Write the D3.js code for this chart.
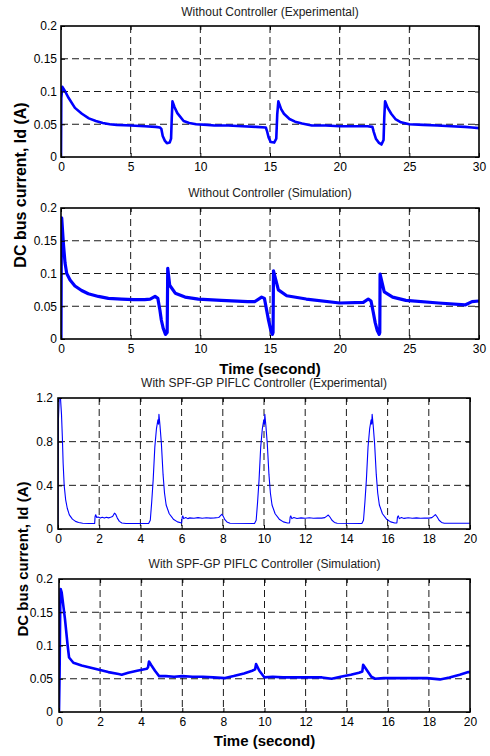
<!DOCTYPE html>
<html>
<head>
<meta charset="utf-8">
<script src="https://cdn.jsdelivr.net/npm/d3@7"></script>
<style>
  html, body { margin: 0; padding: 0; background: #fff; }
  svg { display: block; font-family: "Liberation Sans", Arial, sans-serif; }
</style>
</head>
<body>
<svg id="fig" width="490" height="756"></svg>
<script>
// Tick values
const timeTicks30 = [0, 5, 10, 15, 20, 25, 30];
const timeTicks20 = [0, 2, 4, 6, 8, 10, 12, 14, 16, 18, 20];
const currentTicksSmall = [0, 0.05, 0.1, 0.15, 0.2];
const currentTicksLarge = [0, 0.4, 0.8, 1.2];

// DC bus current, no controller, experimental: [time s, current A]
const noCtrlExperimental = [
  [0, 0], [0.02, 0.09], [0.1, 0.107], [0.3, 0.1], [0.55, 0.09], [1.0, 0.075], [1.5, 0.066],
  [2.0, 0.059], [2.5, 0.055], [3.0, 0.052], [3.5, 0.05], [4, 0.049], [5, 0.048], [6, 0.047],
  [6.8, 0.046], [7.1, 0.045], [7.2, 0.043], [7.3, 0.032], [7.45, 0.025], [7.6, 0.021],
  [7.8, 0.022], [7.9, 0.028], [7.95, 0.06], [8.0, 0.085], [8.15, 0.076], [8.35, 0.067],
  [8.8, 0.055], [9.2, 0.052], [9.7, 0.05], [10.5, 0.049], [11, 0.048], [12, 0.048], [13, 0.047],
  [14, 0.046], [14.7, 0.045], [14.78, 0.04], [14.9, 0.03], [15.05, 0.023], [15.3, 0.022],
  [15.45, 0.028], [15.52, 0.065], [15.6, 0.085], [15.8, 0.073], [16.0, 0.066], [16.4, 0.058],
  [16.8, 0.054], [17.3, 0.051], [18, 0.048], [19, 0.048], [20, 0.047], [21, 0.047],
  [22, 0.047], [22.35, 0.046], [22.45, 0.038], [22.6, 0.028], [22.8, 0.022], [23.0, 0.019],
  [23.15, 0.026], [23.2, 0.06], [23.26, 0.085], [23.45, 0.075], [23.7, 0.066], [24, 0.058],
  [24.4, 0.053], [25, 0.05], [26, 0.049], [27, 0.048], [28, 0.047], [29, 0.046], [29.5, 0.045],
  [30, 0.044]
];

// DC bus current, no controller, simulation
const noCtrlSimulation = [
  [0, 0], [0.02, 0.12], [0.05, 0.185], [0.17, 0.146], [0.29, 0.116], [0.41, 0.1], [0.65, 0.09],
  [1.0, 0.081], [1.48, 0.074], [1.96, 0.069], [2.68, 0.065], [3.4, 0.062], [4.35, 0.061],
  [5.2, 0.06], [6.0, 0.06], [6.4, 0.061], [6.75, 0.065], [6.95, 0.062], [7.1, 0.044],
  [7.2, 0.029], [7.34, 0.016], [7.5, 0.007], [7.62, 0.01], [7.66, 0.108], [7.8, 0.082],
  [8.2, 0.07], [8.9, 0.064], [9.86, 0.061], [11.5, 0.059], [13.4, 0.057], [13.9, 0.057],
  [14.4, 0.064], [14.6, 0.062], [14.75, 0.045], [14.9, 0.028], [15.05, 0.014], [15.17, 0.007],
  [15.22, 0.01], [15.25, 0.104], [15.6, 0.075], [16.2, 0.066], [17.6, 0.061], [20.0, 0.055],
  [21.7, 0.056], [22.05, 0.061], [22.25, 0.058], [22.4, 0.042], [22.55, 0.025], [22.7, 0.013],
  [22.84, 0.007], [22.88, 0.01], [22.9, 0.099], [23.2, 0.072], [23.8, 0.064], [24.75, 0.059],
  [27.1, 0.055], [29.0, 0.052], [29.5, 0.057], [30, 0.058]
];

// DC bus current, SPF-GP PIFLC controller, experimental
const piflcExperimental = [
  [0, 0], [0.02, 1.0], [0.06, 1.2], [0.12, 1.2], [0.17, 1.05], [0.21, 0.85], [0.25, 0.6],
  [0.3, 0.4], [0.37, 0.27], [0.45, 0.19], [0.55, 0.13], [0.7, 0.09], [0.85, 0.07], [1.0, 0.06],
  [1.2, 0.053], [1.5, 0.05], [1.78, 0.05],
  [1.8, 0.115], [1.83, 0.13], [1.88, 0.105], [1.95, 0.11], [2.05, 0.1], [2.15, 0.108],
  [2.25, 0.1], [2.35, 0.107], [2.45, 0.102], [2.55, 0.108], [2.65, 0.115], [2.74, 0.145],
  [2.8, 0.135], [2.88, 0.1], [2.98, 0.07], [3.1, 0.055], [3.3, 0.05], [4.4, 0.05],
  [4.48, 0.08], [4.55, 0.25], [4.62, 0.45], [4.7, 0.75], [4.78, 0.92], [4.85, 1.0], [4.88, 0.96],
  [4.9, 1.05], [4.95, 0.95], [5.02, 0.78], [5.1, 0.5], [5.17, 0.33], [5.25, 0.22], [5.4, 0.14],
  [5.6, 0.09], [5.8, 0.065], [6.0, 0.055],
  [6.03, 0.11], [6.06, 0.12], [6.1, 0.095], [6.2, 0.105], [6.3, 0.095], [6.4, 0.102],
  [6.6, 0.098], [6.8, 0.104], [7.0, 0.099], [7.2, 0.103], [7.4, 0.1], [7.6, 0.102], [7.8, 0.105],
  [7.9, 0.125], [7.95, 0.135], [8.02, 0.118], [8.1, 0.085], [8.2, 0.065], [8.35, 0.052],
  [9.54, 0.05],
  [9.62, 0.08], [9.69, 0.25], [9.76, 0.45], [9.84, 0.75], [9.92, 0.92], [9.99, 1.0],
  [10.02, 0.96], [10.04, 1.05], [10.09, 0.95], [10.16, 0.78], [10.24, 0.5], [10.31, 0.33],
  [10.39, 0.22], [10.54, 0.14], [10.74, 0.09], [10.94, 0.065], [11.14, 0.055], [11.24, 0.055],
  [11.27, 0.11], [11.3, 0.12], [11.35, 0.095], [11.45, 0.105], [11.6, 0.096], [11.8, 0.102],
  [12.0, 0.098], [12.2, 0.103], [12.4, 0.099], [12.6, 0.101], [12.8, 0.1], [12.95, 0.104],
  [13.05, 0.118], [13.12, 0.128], [13.2, 0.11], [13.3, 0.08], [13.42, 0.06], [13.55, 0.052],
  [14.75, 0.05],
  [14.83, 0.08], [14.9, 0.25], [14.97, 0.45], [15.05, 0.75], [15.13, 0.92], [15.2, 1.0],
  [15.23, 0.96], [15.25, 1.05], [15.3, 0.95], [15.37, 0.78], [15.45, 0.5], [15.52, 0.33],
  [15.6, 0.22], [15.75, 0.14], [15.95, 0.09], [16.15, 0.065], [16.35, 0.055], [16.45, 0.055],
  [16.48, 0.11], [16.52, 0.12], [16.57, 0.095], [16.67, 0.105], [16.8, 0.097], [17.0, 0.103],
  [17.2, 0.098], [17.4, 0.102], [17.6, 0.099], [17.8, 0.101], [18.0, 0.1], [18.15, 0.104],
  [18.25, 0.12], [18.32, 0.132], [18.4, 0.112], [18.5, 0.08], [18.62, 0.06], [18.75, 0.053],
  [20, 0.053]
];

// DC bus current, SPF-GP PIFLC controller, simulation
const piflcSimulation = [
  [0, 0], [0.03, 0.06], [0.06, 0.16], [0.08, 0.185], [0.13, 0.18], [0.29, 0.14], [0.42, 0.1],
  [0.49, 0.082], [0.7, 0.074], [1.1, 0.07], [1.5, 0.067], [1.9, 0.064], [2.4, 0.06],
  [2.9, 0.057], [3.05, 0.056], [3.37, 0.059], [3.8, 0.062], [4.27, 0.065], [4.33, 0.067],
  [4.38, 0.076], [4.5, 0.07], [4.67, 0.062], [4.87, 0.054], [5.2, 0.054], [5.6, 0.053],
  [6.0, 0.054], [6.5, 0.053], [7.0, 0.053], [7.5, 0.052], [8.08, 0.051], [8.5, 0.054],
  [9.0, 0.058], [9.4, 0.062], [9.54, 0.064], [9.59, 0.072], [9.75, 0.062], [10.0, 0.052],
  [10.4, 0.053], [10.9, 0.052], [11.5, 0.052], [12.2, 0.052], [12.8, 0.052], [13.27, 0.05],
  [13.7, 0.053], [14.2, 0.056], [14.6, 0.059], [14.76, 0.061], [14.8, 0.071], [15.0, 0.062],
  [15.2, 0.053], [15.38, 0.05], [15.8, 0.051], [16.5, 0.051], [17.2, 0.051], [17.9, 0.051],
  [18.54, 0.049], [19.0, 0.052], [19.5, 0.056], [19.92, 0.06], [20, 0.06]
];

const panels = [
  { title: "Without Controller (Experimental)", data: noCtrlExperimental,
    left: 61, top: 26, width: 418, height: 131, tMax: 30, tTicks: timeTicks30,
    iMax: 0.2, iTicks: currentTicksSmall, stroke: 2.6, yPad: 4, xLabel: false, titleY: 16 },
  { title: "Without Controller (Simulation)", data: noCtrlSimulation,
    left: 61, top: 208, width: 418, height: 131, tMax: 30, tTicks: timeTicks30,
    iMax: 0.2, iTicks: currentTicksSmall, stroke: 3.2, yPad: 4, xLabel: true, titleY: 197, xLabelY: 374 },
  { title: "With SPF-GP PIFLC Controller (Experimental)", data: piflcExperimental,
    left: 58, top: 398, width: 412, height: 131, tMax: 20, tTicks: timeTicks20,
    iMax: 1.2, iTicks: currentTicksLarge, stroke: 1.1, yPad: 5, xLabel: false, titleY: 387 },
  { title: "With SPF-GP PIFLC Controller (Simulation)", data: piflcSimulation,
    left: 59, top: 579, width: 411, height: 133, tMax: 20, tTicks: timeTicks20,
    iMax: 0.2, iTicks: currentTicksSmall, stroke: 2.6, yPad: 6, xLabel: true, titleY: 568, xLabelY: 746 }
];

const svg = d3.select("#fig");
const fmt = d => String(+d.toFixed(2));

panels.forEach((p, k) => {
  const x = d3.scaleLinear().domain([0, p.tMax]).range([0, p.width]);
  const y = d3.scaleLinear().domain([0, p.iMax]).range([p.height, 0]);
  const g = svg.append("g").attr("transform", `translate(${p.left},${p.top})`);

  svg.append("defs").append("clipPath").attr("id", "clip" + k)
    .append("rect").attr("width", p.width).attr("height", p.height);

  // dashed grid
  g.append("g").selectAll("line").data(p.tTicks.slice(1, -1)).join("line")
    .attr("x1", d => x(d)).attr("x2", d => x(d)).attr("y1", 0).attr("y2", p.height)
    .attr("stroke", "#000").attr("stroke-width", 0.9).attr("stroke-dasharray", "7,4");
  g.append("g").selectAll("line").data(p.iTicks.slice(1, -1)).join("line")
    .attr("y1", d => y(d)).attr("y2", d => y(d)).attr("x1", 0).attr("x2", p.width)
    .attr("stroke", "#000").attr("stroke-width", 0.9).attr("stroke-dasharray", "7,4");

  // current trace
  g.append("path").datum(p.data)
    .attr("clip-path", `url(#clip${k})`)
    .attr("fill", "none").attr("stroke", "#0000ff").attr("stroke-width", p.stroke)
    .attr("stroke-linejoin", "round")
    .attr("d", d3.line().x(d => x(d[0])).y(d => y(d[1])));

  // axes with inward ticks on all four sides
  const styleAxis = sel => {
    sel.select(".domain").remove();
    sel.selectAll("text").attr("font-size", 12).attr("fill", "#000")
      .attr("font-family", "Liberation Sans, Arial, sans-serif");
    sel.selectAll("line").attr("stroke", "#000");
  };
  g.append("g").attr("transform", `translate(0,${p.height})`)
    .call(d3.axisBottom(x).tickValues(p.tTicks).tickFormat(fmt).tickSizeInner(-4).tickSizeOuter(0).tickPadding(5))
    .call(styleAxis);
  g.append("g")
    .call(d3.axisLeft(y).tickValues(p.iTicks).tickFormat(fmt).tickSizeInner(-4).tickSizeOuter(0).tickPadding(p.yPad))
    .call(styleAxis);
  g.append("g")
    .call(d3.axisTop(x).tickValues(p.tTicks).tickFormat("").tickSizeInner(-4).tickSizeOuter(0))
    .call(styleAxis);
  g.append("g").attr("transform", `translate(${p.width},0)`)
    .call(d3.axisRight(y).tickValues(p.iTicks).tickFormat("").tickSizeInner(-4).tickSizeOuter(0))
    .call(styleAxis);

  // frame
  g.append("rect").attr("width", p.width).attr("height", p.height)
    .attr("fill", "none").attr("stroke", "#000").attr("stroke-width", 1.6);

  // title
  svg.append("text").attr("x", p.left + p.width / 2).attr("y", p.titleY)
    .attr("text-anchor", "middle").attr("font-size", 12).attr("fill", "#222")
    .text(p.title);

  if (p.xLabel) {
    svg.append("text").attr("x", p.left + p.width / 2).attr("y", p.xLabelY)
      .attr("text-anchor", "middle").attr("font-size", 15).attr("font-weight", "bold")
      .text("Time (second)");
  }
});

// shared y-axis labels for each pair of panels
const yLabels = [
  { cx: 26, cy: 185, size: 16 },
  { cx: 28, cy: 559, size: 15 }
];
yLabels.forEach(l => {
  svg.append("text")
    .attr("transform", `translate(${l.cx},${l.cy}) rotate(-90)`)
    .attr("text-anchor", "middle").attr("font-size", l.size).attr("font-weight", "bold")
    .text("DC bus current, Id (A)");
});
</script>
</body>
</html>
